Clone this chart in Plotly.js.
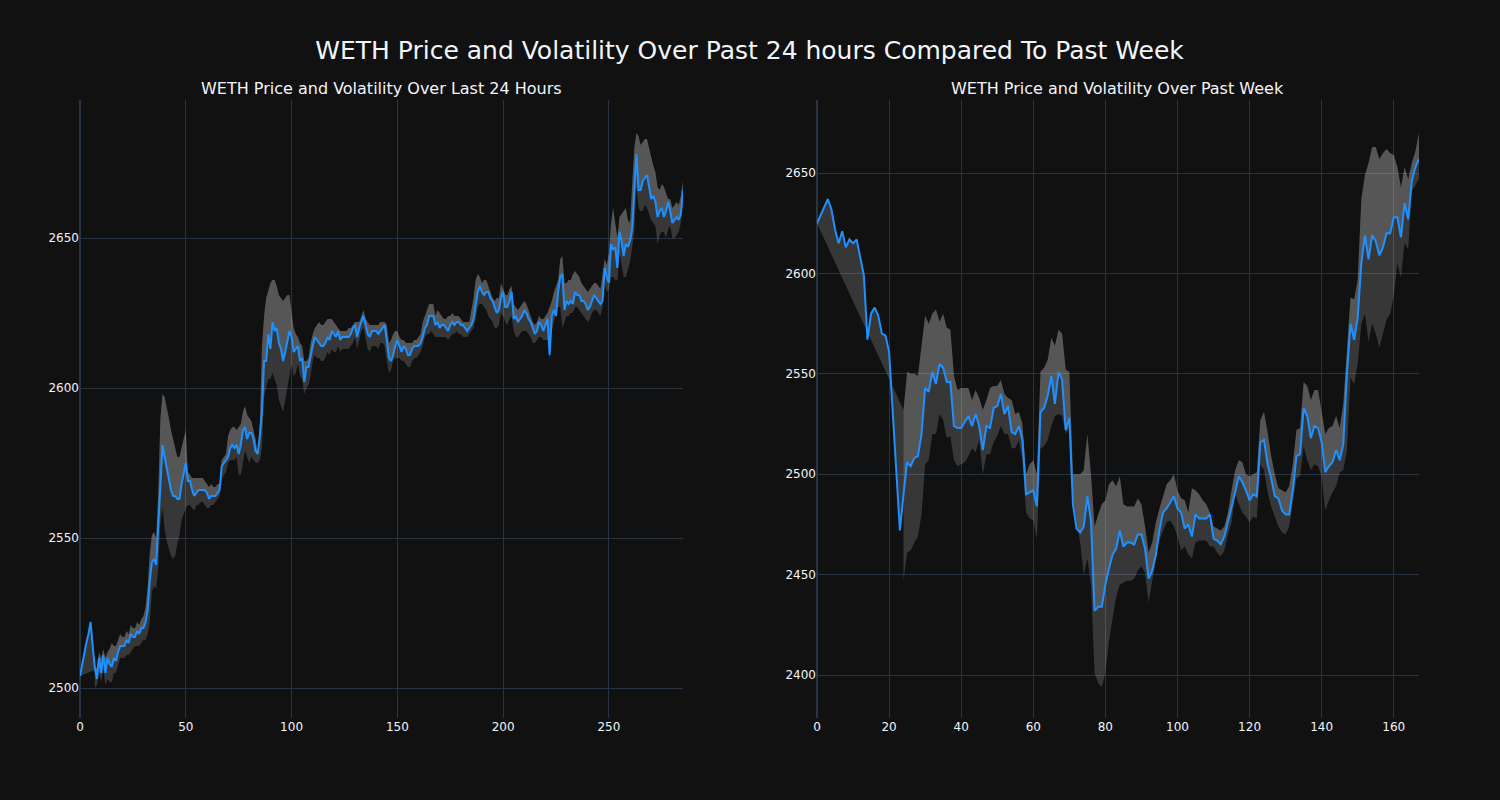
<!DOCTYPE html>
<html>
<head>
<meta charset="utf-8">
<script src="https://cdn.plot.ly/plotly-3.0.1.min.js"></script>
<style>html,body{margin:0;padding:0;background:#111111;}#chart{width:1500px;height:800px;}</style>
</head>
<body>
<div id="chart"></div>
<script>
// ---- Left panel: last 24 hours (index of 5-minute steps) ----
const leftPrice = [
2504,2508,2511,2515,2518,2522,2514,2507,2503,2510,
2505,2511,2505,2510,2508,2507,2510,2509,2512,2514,
2514,2514,2516,2515,2518,2517,2517,2519,2518,2520,
2520,2522,2526,2536,2542,2543,2541,2553,2569,2581,
2577,2573,2570,2566,2564,2564,2563,2563,2568,2571,
2575,2569,2569,2566,2564,2565,2566,2566,2566,2566,
2565,2563,2564,2564,2564,2565,2566,2574,2575,2576,
2577,2580,2581,2580,2581,2578,2581,2586,2587,2583,
2585,2585,2583,2579,2578,2584,2592,2609,2609,2618,
2613,2622,2619,2620,2615,2613,2609,2612,2616,2619,
2617,2612,2613,2614,2609,2610,2602,2607,2607,2611,
2614,2617,2616,2615,2614,2614,2615,2617,2616,2619,
2618,2617,2619,2616,2617,2617,2617,2617,2618,2620,
2621,2617,2620,2622,2624,2621,2618,2617,2619,2619,
2619,2618,2619,2620,2621,2616,2610,2609,2611,2614,
2616,2614,2612,2614,2613,2611,2611,2613,2614,2614,
2614,2615,2617,2620,2621,2624,2624,2624,2621,2622,
2620,2621,2621,2620,2619,2621,2622,2621,2622,2622,
2621,2621,2620,2619,2620,2621,2623,2628,2632,2634,
2632,2631,2632,2632,2630,2629,2627,2625,2626,2630,
2632,2627,2627,2629,2632,2623,2624,2622,2623,2624,
2626,2625,2623,2622,2620,2618,2619,2622,2621,2619,
2621,2623,2611,2624,2626,2624,2632,2637,2638,2626,
2629,2628,2629,2628,2632,2631,2631,2629,2629,2628,
2626,2627,2629,2631,2630,2629,2628,2629,2640,2637,
2635,2648,2646,2647,2640,2652,2649,2644,2648,2647,
2649,2653,2665,2678,2666,2666,2669,2670,2671,2667,
2663,2664,2662,2657,2659,2660,2657,2659,2662,2659,
2655,2656,2657,2656,2658,2666
];
const leftUpper = [
null,null,null,null,null,null,null,2506,2507,2512,
2510,2513,2510,2512,2513,2515,2514,2514,2516,2518,
2517,2517,2519,2518,2521,2520,2520,2522,2521,2523,
2524,2527,2534,2545,2551,2552,2550,2565,2590,2598,
2597,2594,2590,2586,2583,2580,2577,2577,2580,2584,
2586,2572,2571,2570,2570,2570,2570,2570,2570,2569,
2568,2567,2568,2567,2567,2568,2568,2576,2577,2578,
2584,2586,2587,2587,2586,2587,2588,2592,2594,2591,
2590,2589,2586,2583,2578,2588,2614,2624,2630,2633,
2635,2636,2636,2634,2631,2630,2629,2630,2631,2631,
2625,2620,2618,2617,2615,2614,2609,2609,2610,2615,
2618,2620,2621,2622,2621,2621,2622,2623,2623,2623,
2622,2621,2620,2619,2619,2619,2619,2620,2620,2621,
2622,2622,2622,2624,2626,2623,2622,2621,2621,2621,
2621,2621,2622,2622,2622,2621,2615,2616,2618,2619,
2619,2617,2616,2616,2615,2615,2615,2615,2616,2616,
2617,2618,2622,2624,2626,2628,2628,2628,2624,2626,
2625,2624,2623,2623,2624,2624,2625,2624,2624,2624,
2623,2622,2622,2622,2622,2626,2630,2636,2638,2637,
2635,2636,2636,2634,2632,2630,2629,2630,2630,2635,
2633,2631,2631,2633,2634,2628,2627,2626,2627,2628,
2629,2628,2626,2624,2622,2621,2622,2624,2623,2623,
2624,2625,2627,2629,2632,2634,2636,2643,2644,2635,
2635,2636,2636,2638,2639,2638,2637,2635,2634,2633,
2632,2633,2634,2635,2635,2634,2633,2638,2643,2641,
2645,2655,2660,2655,2650,2657,2658,2659,2660,2656,
2655,2668,2680,2685,2684,2681,2682,2683,2683,2680,
2676,2674,2672,2667,2666,2668,2667,2665,2663,2663,
2660,2661,2662,2661,2664,2669
];
const leftLower = [
null,null,null,null,null,null,null,2500,2501,2505,
2502,2506,2501,2503,2502,2502,2505,2505,2508,2510,
2510,2510,2511,2511,2512,2513,2514,2514,2514,2515,
2516,2516,2518,2522,2532,2534,2533,2540,2555,2560,
2553,2549,2546,2544,2543,2544,2548,2551,2556,2558,
2560,2561,2561,2560,2559,2561,2561,2562,2562,2561,
2560,2560,2561,2561,2562,2563,2564,2569,2571,2572,
2575,2576,2576,2576,2577,2571,2571,2575,2579,2577,
2575,2577,2576,2575,2575,2576,2580,2597,2600,2603,
2603,2605,2603,2601,2596,2594,2592,2596,2600,2605,
2608,2604,2605,2608,2604,2603,2598,2600,2601,2604,
2609,2611,2610,2610,2609,2609,2610,2612,2611,2613,
2612,2612,2614,2612,2613,2613,2613,2613,2614,2615,
2617,2613,2616,2619,2620,2617,2613,2612,2614,2614,
2614,2613,2615,2615,2614,2609,2605,2606,2609,2610,
2610,2610,2609,2609,2608,2607,2607,2609,2610,2610,
2611,2612,2614,2617,2618,2618,2619,2618,2617,2617,
2617,2617,2617,2617,2616,2617,2618,2618,2619,2618,
2618,2617,2617,2617,2618,2619,2620,2623,2627,2628,
2628,2627,2626,2624,2623,2622,2620,2620,2621,2625,
2624,2622,2621,2623,2624,2619,2617,2617,2618,2619,
2619,2619,2618,2617,2615,2615,2616,2617,2617,2616,
2616,2616,2609,2619,2622,2625,2627,2627,2620,2622,
2624,2624,2625,2625,2627,2627,2626,2625,2624,2623,
2622,2623,2625,2626,2626,2625,2624,2627,2635,2632,
2633,2637,2637,2636,2636,2645,2641,2637,2637,2640,
2642,2647,2652,2667,2660,2659,2659,2661,2660,2658,
2656,2655,2654,2648,2651,2652,2652,2650,2653,2654,
2650,2650,2651,2652,2655,2661
];

// ---- Right panel: past week (hourly index) ----
const rightPrice = [
2625,2629,2633,2637,2632,2622,2615,2621,2613,2617,
2615,2617,2608,2599,2567,2580,2583,2579,2570,2569,
2561,2530,2504,2472,2490,2506,2504,2508,2509,2520,
2543,2541,2551,2545,2555,2553,2546,2546,2524,2523,
2523,2526,2529,2524,2530,2524,2512,2524,2523,2533,
2534,2540,2530,2534,2521,2520,2524,2517,2490,2491,
2492,2484,2531,2533,2539,2549,2535,2551,2547,2522,
2528,2485,2473,2471,2474,2489,2477,2432,2434,2434,
2445,2453,2460,2463,2472,2464,2466,2466,2465,2470,
2470,2463,2448,2452,2460,2472,2481,2483,2486,2489,
2483,2481,2473,2475,2469,2480,2478,2478,2478,2480,
2468,2467,2465,2469,2476,2484,2491,2499,2496,2492,
2487,2490,2489,2516,2517,2505,2498,2489,2488,2482,
2480,2480,2492,2509,2510,2533,2529,2518,2524,2523,
2516,2501,2504,2506,2512,2507,2515,2550,2575,2567,
2578,2605,2619,2607,2619,2616,2609,2613,2620,2620,
2628,2628,2618,2635,2627,2646,2653,2657
];
const rightUpper = [
null,null,null,null,null,null,null,null,null,null,
null,null,null,null,null,null,null,null,null,null,
null,null,null,null,2532,2551,2550,2550,2549,2563,
2579,2575,2580,2582,2576,2580,2573,2572,2549,2542,
2543,2543,2543,2537,2542,2538,2532,2537,2543,2544,
2544,2547,2540,2538,2537,2530,2531,2525,2500,2505,
2507,2500,2551,2553,2557,2568,2564,2572,2570,2552,
2551,2500,2500,2500,2502,2520,2500,2474,2480,2485,
2487,2495,2497,2494,2499,2485,2484,2484,2484,2488,
2485,2474,2461,2466,2476,2483,2489,2495,2497,2500,
2492,2488,2487,2481,2493,2492,2490,2487,2485,2481,
2474,2473,2472,2474,2481,2492,2502,2507,2506,2500,
2499,2500,2501,2527,2531,2521,2509,2500,2493,2492,
2491,2494,2505,2522,2523,2546,2544,2537,2542,2542,
2532,2520,2523,2524,2529,2523,2535,2560,2588,2587,
2597,2637,2649,2655,2663,2663,2657,2660,2662,2660,
2659,2653,2643,2653,2647,2655,2661,2670
];
const rightLower = [
null,null,null,null,null,null,null,null,null,null,
null,null,null,null,null,null,null,null,null,null,
null,null,null,null,2447,2461,2462,2466,2469,2480,
2505,2507,2520,2520,2530,2527,2518,2519,2507,2504,
2505,2506,2509,2513,2511,2517,2500,2510,2510,2516,
2519,2524,2520,2520,2513,2513,2517,2507,2481,2478,
2477,2468,2513,2514,2517,2524,2529,2530,2529,2520,
2523,2489,2477,2466,2450,2458,2445,2401,2396,2394,
2401,2417,2428,2439,2445,2446,2447,2447,2448,2452,
2454,2451,2436,2447,2457,2467,2472,2476,2477,2474,
2469,2462,2464,2460,2458,2466,2467,2467,2467,2464,
2464,2461,2459,2462,2470,2476,2490,2485,2481,2479,
2476,2479,2478,2505,2502,2491,2484,2479,2474,2471,
2470,2474,2485,2498,2499,2514,2507,2502,2505,2504,
2499,2482,2487,2491,2494,2501,2502,2512,2548,2545,
2555,2575,2580,2566,2575,2570,2563,2570,2577,2580,
2589,2605,2598,2615,2612,2641,2644,2647
];

const mainTitle = 'WETH Price and Volatility Over Past 24 hours Compared To Past Week';
const subTitles = ['WETH Price and Volatility Over Last 24 Hours', 'WETH Price and Volatility Over Past Week'];

const LINE = '#1e90ff';
const FILL = 'rgba(211,211,211,0.2)';

function panel(price, upper, lower, xa, ya) {
  const xs = price.map((_, i) => i);
  const bx = [], uy = [], ly = [];
  for (let i = 0; i < price.length; i++) {
    if (upper[i] !== null && lower[i] !== null) { bx.push(i); uy.push(upper[i]); ly.push(lower[i]); }
  }
  return [
    {x: xs, y: price, type: 'scatter', mode: 'lines', line: {width: 0, color: 'rgba(0,0,0,0)'}, xaxis: xa, yaxis: ya, hoverinfo: 'skip'},
    {x: bx, y: uy, type: 'scatter', mode: 'lines', line: {width: 0, color: 'rgba(0,0,0,0)'}, fill: 'tonexty', fillcolor: FILL, xaxis: xa, yaxis: ya, hoverinfo: 'skip'},
    {x: bx, y: ly, type: 'scatter', mode: 'lines', line: {width: 0, color: 'rgba(0,0,0,0)'}, fill: 'tonexty', fillcolor: FILL, xaxis: xa, yaxis: ya, hoverinfo: 'skip'},
    {x: xs, y: price, type: 'scatter', mode: 'lines', line: {width: 2, color: LINE}, xaxis: xa, yaxis: ya}
  ];
}

const data = [].concat(
  panel(leftPrice, leftUpper, leftLower, 'x', 'y'),
  panel(rightPrice, rightUpper, rightLower, 'x2', 'y2')
);

const GRID = '#283442';
const axBase = {gridcolor: GRID, zerolinecolor: GRID, zerolinewidth: 2, showline: false, ticks: '', tickfont: {size: 12, color: '#f2f5fa'}};

const layout = {
  width: 1500, height: 800,
  paper_bgcolor: '#111111', plot_bgcolor: '#111111',
  font: {family: 'DejaVu Sans, sans-serif', color: '#f2f5fa', size: 12},
  title: {text: mainTitle, x: 0.5, xanchor: 'center', xref: 'paper', y: 0.9375, yanchor: 'middle', yref: 'container', font: {size: 25, color: '#f2f5fa'}},
  margin: {l: 80, r: 81, t: 100, b: 82},
  showlegend: false,
  xaxis: Object.assign({}, axBase, {domain: [0, 0.4503], range: [0, 285], dtick: 50, tick0: 0, zeroline: true}),
  yaxis: Object.assign({}, axBase, {domain: [0, 1], range: [2490, 2696], dtick: 50, tick0: 0, zeroline: false}),
  xaxis2: Object.assign({}, axBase, {domain: [0.5504, 1], anchor: 'y2', range: [0, 167], dtick: 20, tick0: 0, zeroline: true}),
  yaxis2: Object.assign({}, axBase, {domain: [0, 1], anchor: 'x2', range: [2378.6, 2686.4], dtick: 50, tick0: 0, zeroline: false}),
  annotations: [
    {text: subTitles[0], x: 0.22515, y: 1, xref: 'paper', yref: 'paper', xanchor: 'center', yanchor: 'bottom', yshift: 0, showarrow: false, font: {size: 16, color: '#f2f5fa'}},
    {text: subTitles[1], x: 0.7752, y: 1, xref: 'paper', yref: 'paper', xanchor: 'center', yanchor: 'bottom', yshift: 0, showarrow: false, font: {size: 16, color: '#f2f5fa'}}
  ]
};

Plotly.newPlot('chart', data, layout, {displayModeBar: false, staticPlot: true});
</script>
</body>
</html>
